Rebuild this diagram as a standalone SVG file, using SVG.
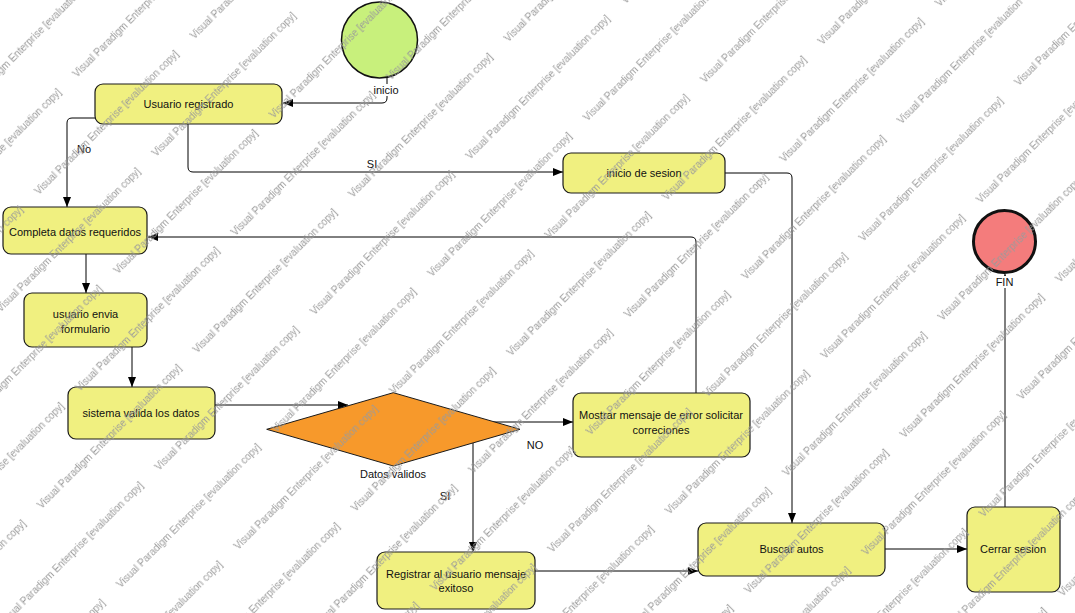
<svg xmlns="http://www.w3.org/2000/svg" width="1075" height="613" viewBox="0 0 1075 613">
  <style>
    .act { fill: #f0f080; stroke: #1a1a1a; stroke-width: 1.2; }
    .lbl { font-family: "Liberation Sans", Arial, sans-serif; font-size: 11px; fill: #111; text-anchor: middle; }
    .edge { fill: none; stroke: #000; stroke-width: 1; }
    .wm text { font-family: "Liberation Sans", Arial, sans-serif; font-size: 10px; fill: #9a9a9a; }
  </style>
  <defs>
    <marker id="arrow" markerUnits="userSpaceOnUse" markerWidth="11" markerHeight="9" refX="10" refY="4" orient="auto">
      <path d="M0,0 L10,4 L0,8 z" fill="#000"/>
    </marker>
    <!-- repeating diagonal evaluation stamp -->
    <pattern id="stamp" class="wm" patternUnits="userSpaceOnUse" width="220" height="112" x="104.4" y="23.5" patternTransform="rotate(-45)">
      <text x="5" y="30">Visual Paradigm Enterprise [evaluation copy]</text>
      <text x="115" y="86">Visual Paradigm Enterprise [evaluation copy]</text>
      <text x="-105" y="86">Visual Paradigm Enterprise [evaluation copy]</text>
    </pattern>
  </defs>

  <rect width="1075" height="613" fill="#ffffff"/>

  <!-- connectors -->
  <g id="connectors">
    <path class="edge" d="M387,78 V98 Q387,103 382,103 H283" marker-end="url(#arrow)"/>
    <path class="edge" d="M95,118 H72 Q67,118 67,123 V207" marker-end="url(#arrow)"/>
    <path class="edge" d="M188,124 V167 Q188,172 193,172 H563" marker-end="url(#arrow)"/>
    <path class="edge" d="M725,173 H787 Q792,173 792,178 V523" marker-end="url(#arrow)"/>
    <path class="edge" d="M86,254 V293" marker-end="url(#arrow)"/>
    <path class="edge" d="M132,347 V387" marker-end="url(#arrow)"/>
    <path class="edge" d="M215,405 H348" marker-end="url(#arrow)"/>
    <path class="edge" d="M493,422 H573" marker-end="url(#arrow)"/>
    <path class="edge" d="M473,443 V552" marker-end="url(#arrow)"/>
    <path class="edge" d="M696,393 V242 Q696,237 691,237 H148" marker-end="url(#arrow)"/>
    <path class="edge" d="M535,571 H698" marker-end="url(#arrow)"/>
    <path class="edge" d="M885,549 H967" marker-end="url(#arrow)"/>
    <path class="edge" d="M1005,507 V274" marker-end="url(#arrow)"/>
    <text class="lbl" x="84" y="153">No</text>
    <text class="lbl" x="372" y="168">SI</text>
    <text class="lbl" x="535" y="449">NO</text>
    <text class="lbl" x="445" y="500">SI</text>
  </g>

  <!-- start -->
  <g id="inicio">
    <circle cx="379.5" cy="40" r="38" fill="#c8f07c" stroke="#111" stroke-width="1.5"/>
    <rect x="372" y="84" width="29" height="12" fill="#ffffff"/>
    <text class="lbl" x="386" y="94">inicio</text>
  </g>

  <g id="usuario-registrado">
    <rect class="act" x="95" y="84" width="187" height="40" rx="8"/>
    <text class="lbl" x="188.5" y="108">Usuario registrado</text>
  </g>

  <g id="inicio-sesion">
    <rect class="act" x="563" y="153" width="162" height="40" rx="8"/>
    <text class="lbl" x="644" y="177">inicio de sesion</text>
  </g>

  <g id="completa-datos">
    <rect class="act" x="3" y="207" width="144" height="47" rx="8"/>
    <text class="lbl" x="75" y="236">Completa datos requeridos</text>
  </g>

  <g id="usuario-envia">
    <rect class="act" x="24" y="293" width="123" height="54" rx="8"/>
    <text class="lbl" x="85.5" y="318">usuario envia</text>
    <text class="lbl" x="85.5" y="333">formulario</text>
  </g>

  <g id="sistema-valida">
    <rect class="act" x="68" y="387" width="147" height="52" rx="8"/>
    <text class="lbl" x="141" y="417">sistema valida los datos</text>
  </g>

  <g id="datos-validos">
    <polygon points="266.7,429.3 393.3,392.7 520,429.3 393.3,466" fill="#f7992b" stroke="#1a1a1a" stroke-width="1"/>
    <text class="lbl" x="393" y="478">Datos validos</text>
  </g>

  <g id="mostrar-error">
    <rect class="act" x="573" y="393" width="177" height="64" rx="8"/>
    <text class="lbl" x="661" y="419">Mostrar mensaje de error solicitar</text>
    <text class="lbl" x="661" y="434">correciones</text>
  </g>

  <g id="registrar-usuario">
    <rect class="act" x="377" y="552" width="158" height="57" rx="8"/>
    <text class="lbl" x="456" y="578">Registrar al usuario mensaje</text>
    <text class="lbl" x="456" y="592">exitoso</text>
  </g>

  <g id="buscar-autos">
    <rect class="act" x="698" y="523" width="187" height="53" rx="8"/>
    <text class="lbl" x="791.5" y="553">Buscar autos</text>
  </g>

  <g id="cerrar-sesion">
    <rect class="act" x="967" y="507" width="93" height="85" rx="8"/>
    <text class="lbl" x="1013" y="553">Cerrar sesion</text>
  </g>

  <!-- end -->
  <g id="fin">
    <circle cx="1004.5" cy="241.5" r="31" fill="#f47c7c" stroke="#111" stroke-width="3"/>
    <rect x="993" y="276" width="23" height="12" fill="#ffffff"/>
    <text class="lbl" x="1004.5" y="286">FIN</text>
  </g>

  <!-- evaluation stamp over the drawing -->
  <rect width="1075" height="613" fill="url(#stamp)"/>
</svg>
